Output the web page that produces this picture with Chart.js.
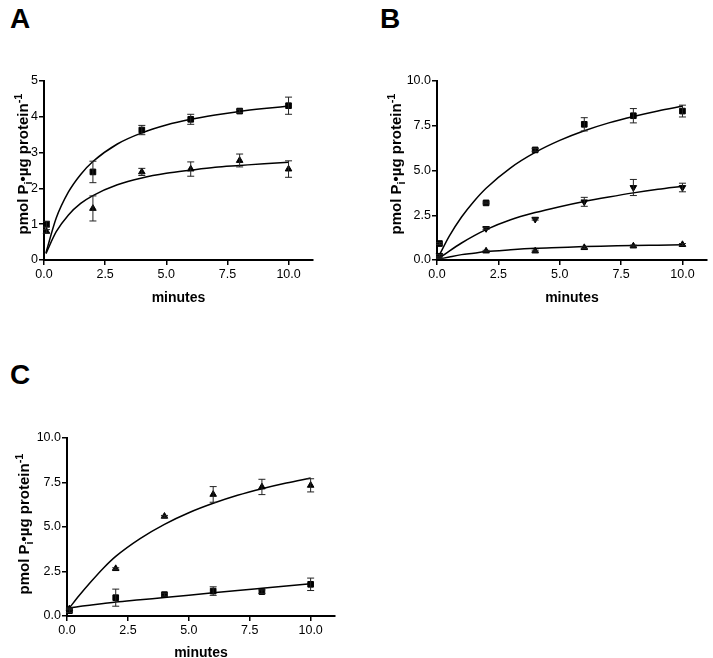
<!DOCTYPE html>
<html>
<head>
<meta charset="utf-8">
<script src="https://cdn.jsdelivr.net/npm/chart.js@4"></script>
<style>
  body { margin: 0; width: 713px; height: 658px; overflow: hidden; background: #fff; position: relative; }
  canvas { position: absolute; }
  .tag { position: absolute; font: bold 28px "Liberation Sans", Arial, sans-serif; line-height: 28px; color: #000; }
</style>
</head>
<body>
<div class="tag" style="left:10px; top:5px;">A</div>
<div class="tag" style="left:380px; top:5px;">B</div>
<div class="tag" style="left:10px; top:361px;">C</div>
<canvas id="panelA" width="356" height="320" style="left:0; top:0;"></canvas>
<canvas id="panelB" width="357" height="320" style="left:356px; top:0;"></canvas>
<canvas id="panelC" width="356" height="340" style="left:0; top:330px;"></canvas>
<script>
// sample times (minutes) and the x values the fitted curves were read at
const minutes = [0.1, 2, 4, 6, 8, 10];
const fitMinutes = [0.08, 0.5, 1, 1.5, 2, 3, 4, 5, 6, 7, 8, 9, 10];
const xTicks = [0, 2.5, 5, 7.5, 10];
const aYTicks = [0, 1, 2, 3, 4, 5];
const bcYTicks = [0, 2.5, 5, 7.5, 10];

// panel A
const aSquare = [1.0, 2.46, 3.63, 3.93, 4.16, 4.31];
const aSquareErr = [0.08, 0.3, 0.13, 0.14, 0.04, 0.24];
const aTriangle = [0.8, 1.44, 2.46, 2.54, 2.78, 2.54];
const aTriangleErr = [0.05, 0.35, 0.1, 0.2, 0.18, 0.23];
const aSquareFit = [0.2, 1.17, 1.9, 2.39, 2.75, 3.24, 3.55, 3.77, 3.93, 4.05, 4.15, 4.23, 4.3];
const aTriangleFit = [0.18, 0.79, 1.26, 1.58, 1.8, 2.1, 2.29, 2.42, 2.51, 2.59, 2.64, 2.69, 2.73];

// panel B
const bSquare = [0.92, 3.19, 6.15, 7.58, 8.06, 8.32];
const bSquareErr = [0.05, 0.05, 0.08, 0.37, 0.4, 0.33];
const bDown = [0.26, 1.76, 2.28, 3.25, 4.05, 4.05];
const bDownErr = [0.05, 0.05, 0.05, 0.25, 0.45, 0.24];
const bUp = [0.1, 0.5, 0.5, 0.69, 0.78, 0.86];
const bUpErr = [0.02, 0.04, 0.05, 0.05, 0.05, 0.06];
const bSquareFit = [0.23, 1.33, 2.4, 3.27, 4.01, 5.15, 6.01, 6.68, 7.22, 7.66, 8.02, 8.33, 8.6];
const bDownFit = [0.1, 0.5, 0.95, 1.35, 1.7, 2.25, 2.65, 2.98, 3.27, 3.52, 3.75, 3.95, 4.12];
const bUpFit = [0.05, 0.17, 0.3, 0.38, 0.47, 0.57, 0.65, 0.7, 0.75, 0.78, 0.81, 0.83, 0.85];

// panel C
const cTriangle = [0.4, 2.66, 5.6, 6.83, 7.25, 7.34];
const cTriangleErr = [0.05, 0.05, 0.05, 0.44, 0.43, 0.37];
const cSquare = [0.3, 1.03, 1.2, 1.4, 1.37, 1.78];
const cSquareErr = [0.1, 0.48, 0.08, 0.24, 0.1, 0.35];
const cTriangleFit = [0.42, 1.15, 1.95, 2.7, 3.35, 4.35, 5.15, 5.8, 6.33, 6.78, 7.15, 7.47, 7.75];
const cSquareFit = [0.45, 0.54, 0.62, 0.7, 0.78, 0.91, 1.04, 1.17, 1.3, 1.43, 1.56, 1.69, 1.81];

const FONT = '"Liberation Sans", Arial, sans-serif';

function pts(xs, ys) {
  return xs.map((x, i) => ({ x: x, y: ys[i] }));
}

function marks(ys, errs, style, rot) {
  return {
    data: pts(minutes, ys),
    errors: errs,
    pointStyle: style,
    rotation: rot || 0,
    pointRadius: style === 'rect' ? 4 : 3.8,
    backgroundColor: '#000',
    borderColor: '#000',
    borderWidth: 1,
    clip: false
  };
}

function curve(ys) {
  return {
    data: pts(fitMinutes, ys),
    showLine: true,
    pointRadius: 0,
    borderColor: '#000',
    borderWidth: 1.5,
    cubicInterpolationMode: 'monotone'
  };
}

const errorBars = {
  id: 'errorBars',
  afterDatasetsDraw(chart) {
    const ctx = chart.ctx;
    const x = chart.scales.x, y = chart.scales.y;
    ctx.save();
    ctx.strokeStyle = '#222';
    ctx.lineWidth = 1;
    chart.data.datasets.forEach(ds => {
      if (!ds.errors) return;
      ds.data.forEach((p, i) => {
        const e = ds.errors[i];
        const px = x.getPixelForValue(p.x);
        const top = y.getPixelForValue(p.y + e);
        const bot = y.getPixelForValue(p.y - e);
        ctx.beginPath();
        ctx.moveTo(px, top); ctx.lineTo(px, bot);
        ctx.moveTo(px - 3.5, top); ctx.lineTo(px + 3.5, top);
        ctx.moveTo(px - 3.5, bot); ctx.lineTo(px + 3.5, bot);
        ctx.stroke();
      });
    });
    ctx.restore();
  }
};

// y title with subscript i and superscript -1
const yTitle = {
  id: 'yTitle',
  afterDraw(chart, args, opts) {
    const ctx = chart.ctx;
    const big = 'bold 15px ' + FONT;
    const small = 'bold 11px ' + FONT;
    const parts = [
      { t: 'pmol P', f: big, dy: 0 },
      { t: 'i', f: small, dy: 3.5 },
      { t: '\u2022\u00b5g protein', f: big, dy: 0 },
      { t: '-1', f: small, dy: -6.5 }
    ];
    ctx.save();
    ctx.translate(opts.x, opts.y);
    ctx.rotate(-Math.PI / 2);
    ctx.fillStyle = '#000';
    ctx.textBaseline = 'alphabetic';
    let total = 0;
    parts.forEach(p => { ctx.font = p.f; p.w = ctx.measureText(p.t).width; total += p.w; });
    let cx = -total / 2;
    parts.forEach(p => { ctx.font = p.f; ctx.fillText(p.t, cx, p.dy); cx += p.w; });
    ctx.restore();
  }
};

function makePanel(id, opt) {
  const canvas = document.getElementById(id);
  const W = canvas.width, H = canvas.height;
  const a = opt.area;
  const axisGrid = { color: '#000', lineWidth: 1.5, drawOnChartArea: false, tickLength: 5 };
  const axisBorder = { color: '#000', width: 2 };
  return new Chart(canvas, {
    type: 'scatter',
    data: { datasets: opt.datasets },
    options: {
      responsive: false,
      animation: false,
      layout: { padding: { left: 0, top: a.top, right: W - a.right, bottom: 0 } },
      plugins: {
        legend: { display: false },
        tooltip: { enabled: false },
        yTitle: opt.yTitle
      },
      scales: {
        x: {
          type: 'linear', min: 0, max: 11,
          afterFit: s => { s.height = H - a.bottom; },
          afterBuildTicks: s => { s.ticks = xTicks.map(v => ({ value: v })); },
          ticks: { color: '#000', font: { family: FONT, size: 12.5 }, padding: 2, maxRotation: 0,
                   callback: v => v.toFixed(1) },
          grid: axisGrid,
          border: axisBorder,
          title: { display: true, text: 'minutes', color: '#000',
                   font: { family: FONT, size: 14, weight: 'bold' },
                   padding: { top: 0, bottom: H - opt.minutesY - 8.4 } }
        },
        y: {
          type: 'linear', min: 0, max: opt.yMax,
          afterFit: s => { s.width = a.left; },
          afterBuildTicks: s => { s.ticks = opt.yTicks.map(v => ({ value: v })); },
          ticks: { color: '#000', font: { family: FONT, size: 12.5 }, padding: 1,
                   callback: opt.yFormat },
          grid: axisGrid,
          border: axisBorder
        }
      }
    },
    plugins: [errorBars, yTitle]
  });
}

makePanel('panelA', {
  area: { left: 44, top: 81, right: 313, bottom: 260 },
  minutesY: 298,
  yTitle: { x: 28, y: 164 },
  yMax: 5, yTicks: aYTicks, yFormat: v => String(v),
  datasets: [
    curve(aSquareFit), curve(aTriangleFit),
    marks(aSquare, aSquareErr, 'rect'),
    marks(aTriangle, aTriangleErr, 'triangle')
  ]
});

makePanel('panelB', {
  area: { left: 81, top: 81, right: 351, bottom: 260 },
  minutesY: 298,
  yTitle: { x: 45, y: 164 },
  yMax: 10, yTicks: bcYTicks, yFormat: v => v.toFixed(1),
  datasets: [
    curve(bSquareFit), curve(bDownFit), curve(bUpFit),
    marks(bSquare, bSquareErr, 'rect'),
    marks(bDown, bDownErr, 'triangle', 180),
    marks(bUp, bUpErr, 'triangle')
  ]
});

makePanel('panelC', {
  area: { left: 67, top: 108, right: 335, bottom: 286 },
  minutesY: 322.7,
  yTitle: { x: 29, y: 194 },
  yMax: 10, yTicks: bcYTicks, yFormat: v => v.toFixed(1),
  datasets: [
    curve(cTriangleFit), curve(cSquareFit),
    marks(cTriangle, cTriangleErr, 'triangle'),
    marks(cSquare, cSquareErr, 'rect')
  ]
});
</script>
</body>
</html>
